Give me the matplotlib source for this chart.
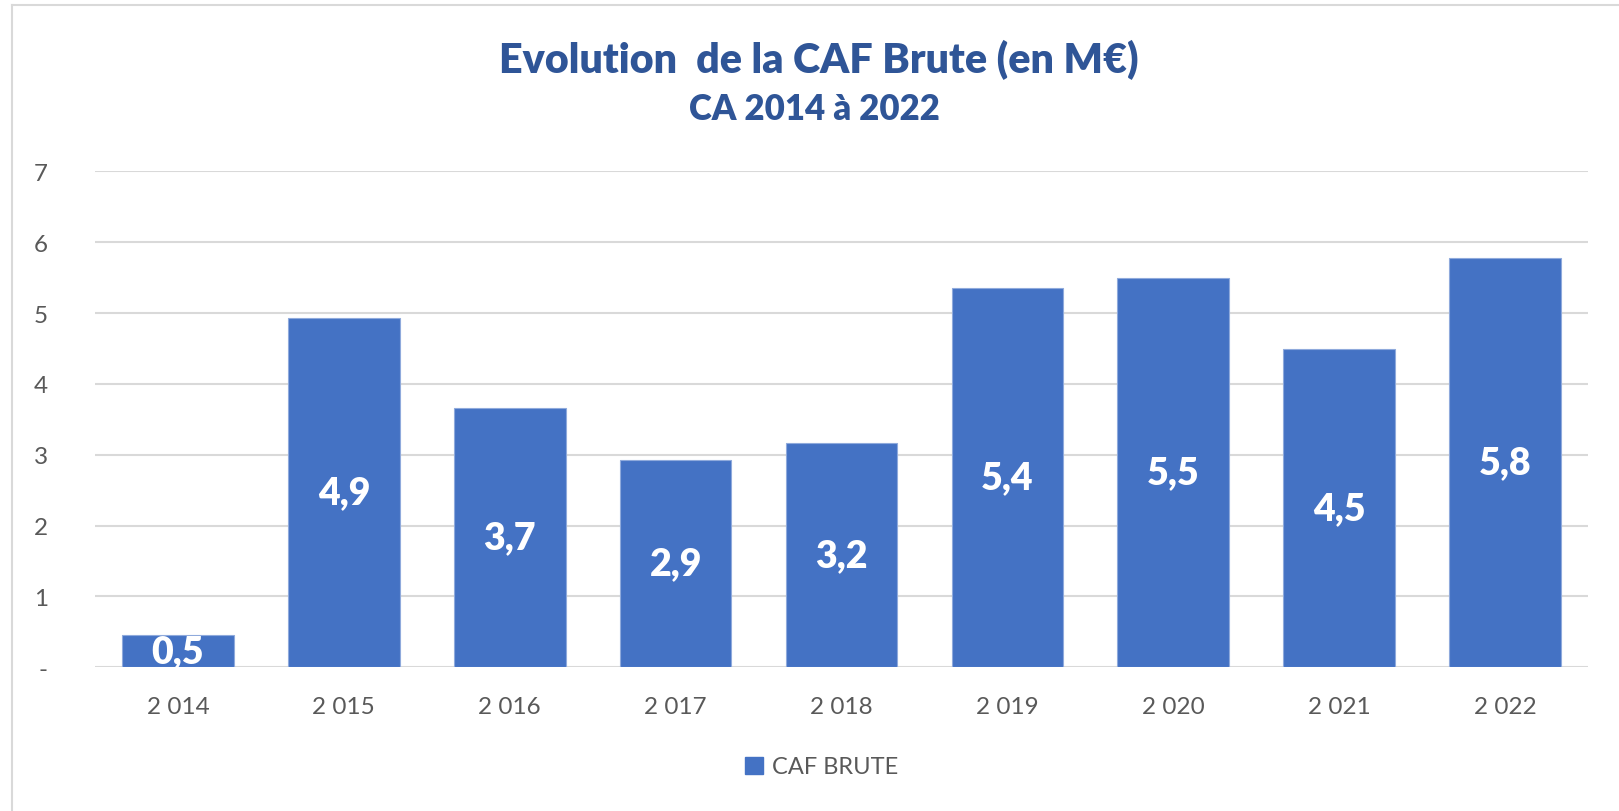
import matplotlib
matplotlib.use("Agg")
import matplotlib.pyplot as plt
from matplotlib.patches import Rectangle
from matplotlib.lines import Line2D

plt.rcParams['font.family'] = ['Lato', 'DejaVu Sans']

years = ["2 014", "2 015", "2 016", "2 017", "2 018", "2 019", "2 020", "2 021", "2 022"]
caf_brute = [0.46, 4.93, 3.66, 2.93, 3.17, 5.36, 5.50, 4.49, 5.78]
y_ticks = [0, 1, 2, 3, 4, 5, 6, 7]
y_tick_labels = ["-", "1", "2", "3", "4", "5", "6", "7"]

W, H = 1619, 812
fig = plt.figure(figsize=(W / 100, H / 100), dpi=100)
ax = fig.add_axes([95 / W, 1 - 668.3 / H, (1588 - 95) / W, (668.3 - 172.3) / H])

bar_color = "#4472C4"
x = list(range(len(years)))
bars = ax.bar(x, caf_brute, width=0.673, color=bar_color, edgecolor="#8FAADC",
              linewidth=0.8, zorder=3, label="CAF BRUTE")

for xi, v in zip(x, caf_brute):
    ax.text(xi, v / 2, f"{v:.1f}".replace(".", ","), ha="center", va="center",
            color="white", fontsize=27, fontweight="heavy", zorder=4)

ax.set_xlim(-0.5, len(years) - 0.5)
ax.set_ylim(0, 7)
ax.set_yticks(y_ticks)
ax.set_yticklabels(y_tick_labels)
ax.set_xticks(x)
ax.set_xticklabels(years)
ax.tick_params(axis="both", length=0, colors="#595959", labelsize=17.5)
ax.tick_params(axis="y", pad=34)
ax.tick_params(axis="x", pad=21)
ax.grid(axis="y", color="#D9D9D9", linewidth=1.5, zorder=0)
for s in ax.spines.values():
    s.set_visible(False)

fig.text(0.506, 1 - 60 / H, "Evolution  de la CAF Brute (en M€)", ha="center", va="center",
         fontsize=29.7, fontweight="heavy", color="#2F5597")
fig.text(0.503, 1 - 110 / H, "CA 2014 à 2022", ha="center", va="center",
         fontsize=25, fontweight="heavy", color="#2F5597")

leg = fig.legend(handles=[Rectangle((0, 0), 1, 1, color=bar_color)], labels=["CAF BRUTE"],
                 loc="center", bbox_to_anchor=(822 / W, 1 - 768 / H), frameon=False,
                 fontsize=17, handlelength=0.75, handleheight=0.75, handletextpad=0.4)
for t in leg.get_texts():
    t.set_color("#595959")

fig.add_artist(Line2D([12 / W, 12 / W], [0, 1 - 6 / H], color="#D9D9D9", linewidth=1.5))
fig.add_artist(Line2D([12 / W, 1], [1 - 6 / H, 1 - 6 / H], color="#D9D9D9", linewidth=1.5))

fig.savefig("out.png", dpi=100, facecolor="white")
